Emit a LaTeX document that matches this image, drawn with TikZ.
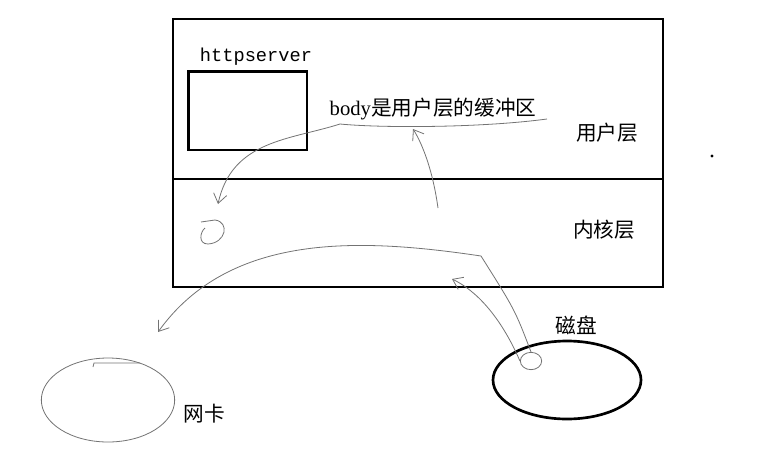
\documentclass[tikz,border=0pt]{standalone}
\usepackage{fontspec}
\setmainfont{Liberation Serif}
\setmonofont{Liberation Mono}
\newfontfamily\cjk{Noto Sans CJK SC}
\usetikzlibrary{arrows.meta,shapes.geometric}
\tikzset{
  thickline/.style={draw,line width=2pt},
  pen/.style={draw=black!55,line width=0.6pt},
  penarrow/.style={pen,-{Straight Barb[length=7pt,width=10pt]}},
  cjktext/.style={font=\cjk\fontsize{15.5}{18}\selectfont,inner sep=0pt}
}
\begin{document}
\begin{tikzpicture}[x=0.75pt,y=-0.75pt]
                      \useasboundingbox (0,0) rectangle (777,471);
                      \draw[thickline] (173,19) rectangle (663,287);
                      \draw[thickline] (173,179) -- (663,179);
                      \node[cjktext] (user) at (607,133) {用户层};
                      \node[cjktext] (kernel) at (604,230) {内核层};
                      \node[thickline,minimum width=89pt,minimum height=59pt] (server) at (247.5,110.5) {};
                      \node[font=\ttfamily\fontsize{14}{16}\selectfont,inner sep=0pt] (servername) at (256,57) {httpserver};
                      \node[cjktext] (buffer) at (433,109) {{\rmfamily body}是用户层的缓冲区};
                      \node[thickline,ellipse,minimum width=111pt,minimum height=58.5pt] (disk) at (567,380) {};
                      \node[cjktext] (diskname) at (576,325) {磁盘};
                      \node[pen,ellipse,minimum width=100pt,minimum height=63pt] (nic) at (108,400) {};
                      \node[cjktext] (nicname) at (204,414) {网卡};
                      \node[pen,ellipse,minimum width=16pt,minimum height=13pt,inner sep=0pt] (sector) at (531,361) {};
                      \coordinate (bufstart) at (340,124);
                      \coordinate (bufend) at (547,119);
                      \coordinate (sockdrop) at (218,204);
                      \coordinate (kernelbuf) at (438,208);
                      \coordinate (bufmid) at (413,129);
                      \coordinate (bend) at (481,256);
                      \coordinate (nicarrow) at (158,332);
                      \coordinate (pagecache) at (452,279);
                      % buffer underline and the copy down into the kernel
                      \draw[pen] (bufstart) .. controls (380,128) and (480,128) .. (bufend);
                      \draw[penarrow] (bufstart) .. controls (290,140) and (232,140) .. (sockdrop);
                      \draw[pen] (201,222) -- (215,220) .. controls (230,222) and (226,243) .. (208,244) .. controls (198,244) and (200,232) .. (205,228);
                      \draw[penarrow] (kernelbuf) .. controls (432,165) and (420,140) .. (bufmid);
                      % disk to nic
                      \draw[penarrow] (sector.north) .. controls (515,310) .. (bend) .. controls (360,238) and (230,232) .. (nicarrow);
                      \draw[penarrow] (sector.west) .. controls (500,315) and (475,290) .. (pagecache);
                      \draw[pen] (93,367) -- (94,363) -- (140,363);
                      \fill (712,156) circle (1.2pt);
                  \end{tikzpicture}
\end{document}
